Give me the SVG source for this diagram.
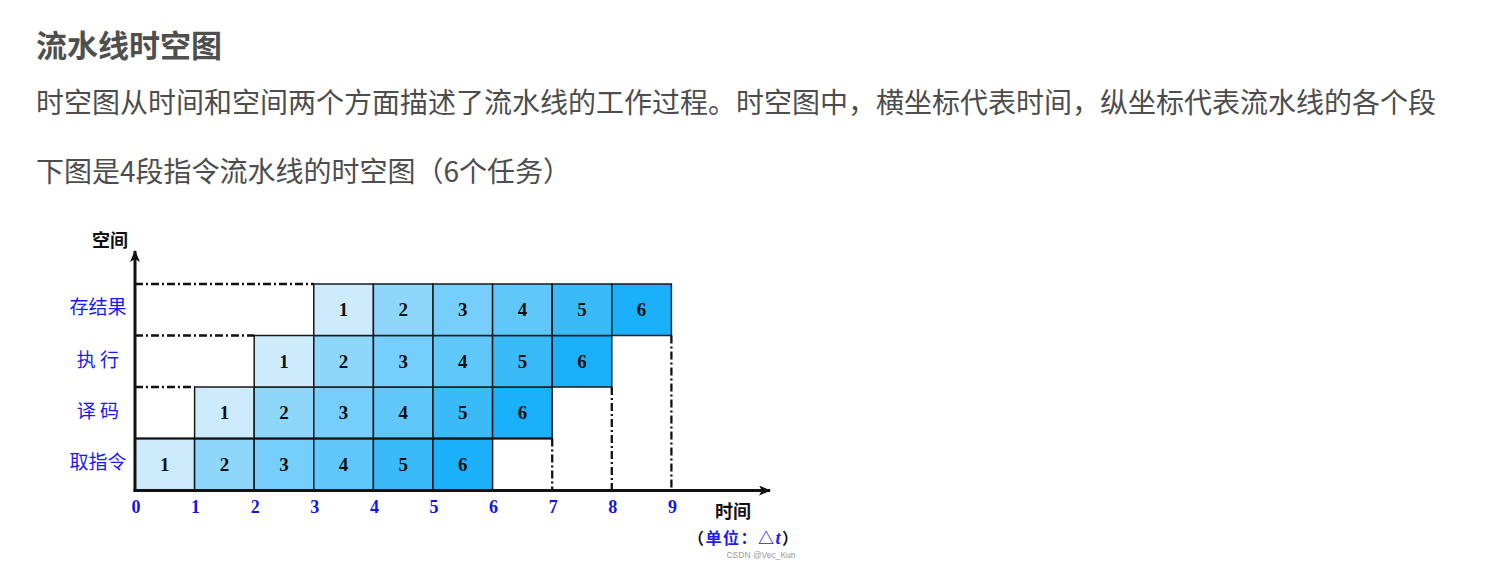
<svg xmlns="http://www.w3.org/2000/svg" width="1498" height="580" viewBox="0 0 1498 580">
<style>
.title{font-family:"Noto Sans CJK SC","Noto Sans",sans-serif;font-size:31px;font-weight:bold;fill:#4f4f4f}
.body{font-family:"Noto Sans CJK SC","Noto Sans",sans-serif;font-size:28px;fill:#4d4d4d}
.cell rect{stroke:#1a1a1a;stroke-width:1.5}
.cell text{font-family:"Liberation Serif",serif;font-weight:bold;font-size:19px;fill:#111;text-anchor:middle}
.c1{fill:#cdebfd}.c2{fill:#8fd6fb}.c3{fill:#75cefc}.c4{fill:#60c7fa}.c5{fill:#3bbaf8}.c6{fill:#1ab0fa}
.rowlbl{font-family:"Noto Sans CJK SC",sans-serif;font-size:19px;fill:#1a1af5;text-anchor:middle}
.tick{font-family:"Liberation Serif",serif;font-weight:bold;font-size:18px;fill:#1515e8;text-anchor:middle}
.axlbl{font-family:"Noto Sans CJK SC",sans-serif;font-weight:bold;font-size:18px;fill:#111}
.dd{stroke:#111;stroke-width:2.3;stroke-dasharray:8 3 2 3;fill:none}
.axis{stroke:#111;stroke-width:3;fill:none}
</style>
<defs>
<marker id="arr" viewBox="0 0 12 10" refX="11" refY="5" markerWidth="12" markerHeight="10" markerUnits="userSpaceOnUse" orient="auto">
<path d="M0,0 L12,5 L0,10 L3,5 Z" fill="#111"/>
</marker>
</defs>

<text class="title" x="36" y="57">流水线时空图</text>
<text class="body" x="36" y="113">时空图从时间和空间两个方面描述了流水线的工作过程。时空图中，横坐标代表时间，纵坐标代表流水线的各个段</text>
<text class="body" x="36" y="182">下图是4段指令流水线的时空图（6个任务）</text>

<!-- row labels -->
<g id="labels">
<text class="rowlbl" x="98" y="314">存结果</text>
<text class="rowlbl" x="98" y="367">执 行</text>
<text class="rowlbl" x="98" y="418">译 码</text>
<text class="rowlbl" x="98" y="469">取指令</text>
<text class="axlbl" x="92" y="247">空间</text>
<text class="axlbl" x="715" y="518">时间</text>
<text x="688" y="544" style="font-family:'Noto Sans CJK SC',sans-serif;font-size:16px;font-weight:bold;letter-spacing:1.5px"><tspan fill="#111">（</tspan><tspan fill="#1a1af5">单位：△</tspan><tspan fill="#1a1af5" style="font-family:'Liberation Serif',serif;font-style:italic;font-size:18px">t</tspan><tspan fill="#111">）</tspan></text>
<text x="761" y="558" style="font-family:'Liberation Sans',sans-serif;font-size:8.5px;fill:#9a9a9a;text-anchor:middle">CSDN @Vec_Kun</text>
</g>

<!-- 取指令 row -->
<g id="if1" class="cell"><rect class="c1" x="135" y="438.5" width="59.6" height="51.5"/><text x="164.8" y="470.5">1</text></g>
<g id="if2" class="cell"><rect class="c2" x="194.6" y="438.5" width="59.6" height="51.5"/><text x="224.4" y="470.5">2</text></g>
<g id="if3" class="cell"><rect class="c3" x="254.2" y="438.5" width="59.6" height="51.5"/><text x="284" y="470.5">3</text></g>
<g id="if4" class="cell"><rect class="c4" x="313.8" y="438.5" width="59.6" height="51.5"/><text x="343.6" y="470.5">4</text></g>
<g id="if5" class="cell"><rect class="c5" x="373.4" y="438.5" width="59.6" height="51.5"/><text x="403.2" y="470.5">5</text></g>
<g id="if6" class="cell"><rect class="c6" x="433" y="438.5" width="59.6" height="51.5"/><text x="462.8" y="470.5">6</text></g>

<!-- 译码 row -->
<g id="id1" class="cell"><rect class="c1" x="194.6" y="387" width="59.6" height="51.5"/><text x="224.4" y="419">1</text></g>
<g id="id2" class="cell"><rect class="c2" x="254.2" y="387" width="59.6" height="51.5"/><text x="284" y="419">2</text></g>
<g id="id3" class="cell"><rect class="c3" x="313.8" y="387" width="59.6" height="51.5"/><text x="343.6" y="419">3</text></g>
<g id="id4" class="cell"><rect class="c4" x="373.4" y="387" width="59.6" height="51.5"/><text x="403.2" y="419">4</text></g>
<g id="id5" class="cell"><rect class="c5" x="433" y="387" width="59.6" height="51.5"/><text x="462.8" y="419">5</text></g>
<g id="id6" class="cell"><rect class="c6" x="492.6" y="387" width="59.6" height="51.5"/><text x="522.4" y="419">6</text></g>

<!-- 执行 row -->
<g id="ex1" class="cell"><rect class="c1" x="254.2" y="335.5" width="59.6" height="51.5"/><text x="284" y="367.5">1</text></g>
<g id="ex2" class="cell"><rect class="c2" x="313.8" y="335.5" width="59.6" height="51.5"/><text x="343.6" y="367.5">2</text></g>
<g id="ex3" class="cell"><rect class="c3" x="373.4" y="335.5" width="59.6" height="51.5"/><text x="403.2" y="367.5">3</text></g>
<g id="ex4" class="cell"><rect class="c4" x="433" y="335.5" width="59.6" height="51.5"/><text x="462.8" y="367.5">4</text></g>
<g id="ex5" class="cell"><rect class="c5" x="492.6" y="335.5" width="59.6" height="51.5"/><text x="522.4" y="367.5">5</text></g>
<g id="ex6" class="cell"><rect class="c6" x="552.2" y="335.5" width="59.6" height="51.5"/><text x="582" y="367.5">6</text></g>

<!-- 存结果 row -->
<g id="wb1" class="cell"><rect class="c1" x="313.8" y="284" width="59.6" height="51.5"/><text x="343.6" y="316">1</text></g>
<g id="wb2" class="cell"><rect class="c2" x="373.4" y="284" width="59.6" height="51.5"/><text x="403.2" y="316">2</text></g>
<g id="wb3" class="cell"><rect class="c3" x="433" y="284" width="59.6" height="51.5"/><text x="462.8" y="316">3</text></g>
<g id="wb4" class="cell"><rect class="c4" x="492.6" y="284" width="59.6" height="51.5"/><text x="522.4" y="316">4</text></g>
<g id="wb5" class="cell"><rect class="c5" x="552.2" y="284" width="59.6" height="51.5"/><text x="582" y="316">5</text></g>
<g id="wb6" class="cell"><rect class="c6" x="611.8" y="284" width="59.6" height="51.5"/><text x="641.6" y="316">6</text></g>

<!-- connectors: axes and guide lines -->
<g id="connectors">
<line class="dd" x1="135" y1="284" x2="313.8" y2="284"/>
<line class="dd" x1="135" y1="335.5" x2="254.2" y2="335.5"/>
<line class="dd" x1="135" y1="387" x2="194.6" y2="387"/>
<line class="dd" x1="552.2" y1="438.5" x2="552.2" y2="490"/>
<line class="dd" x1="611.8" y1="387" x2="611.8" y2="490"/>
<line class="dd" x1="671.4" y1="335.5" x2="671.4" y2="490"/>
<line x1="135" y1="438.5" x2="552.2" y2="438.5" stroke="#111" stroke-width="2.2"/>
<line class="axis" x1="135" y1="491.5" x2="135" y2="251" marker-end="url(#arr)"/>
<line class="axis" x1="133.5" y1="490.5" x2="770" y2="490.5" marker-end="url(#arr)"/>
</g>

<g id="ticks">
<text class="tick" x="136" y="513">0</text>
<text class="tick" x="195.6" y="513">1</text>
<text class="tick" x="255.2" y="513">2</text>
<text class="tick" x="314.8" y="513">3</text>
<text class="tick" x="374.4" y="513">4</text>
<text class="tick" x="434" y="513">5</text>
<text class="tick" x="493.6" y="513">6</text>
<text class="tick" x="553.2" y="513">7</text>
<text class="tick" x="612.8" y="513">8</text>
<text class="tick" x="672.4" y="513">9</text>
</g>
</svg>
